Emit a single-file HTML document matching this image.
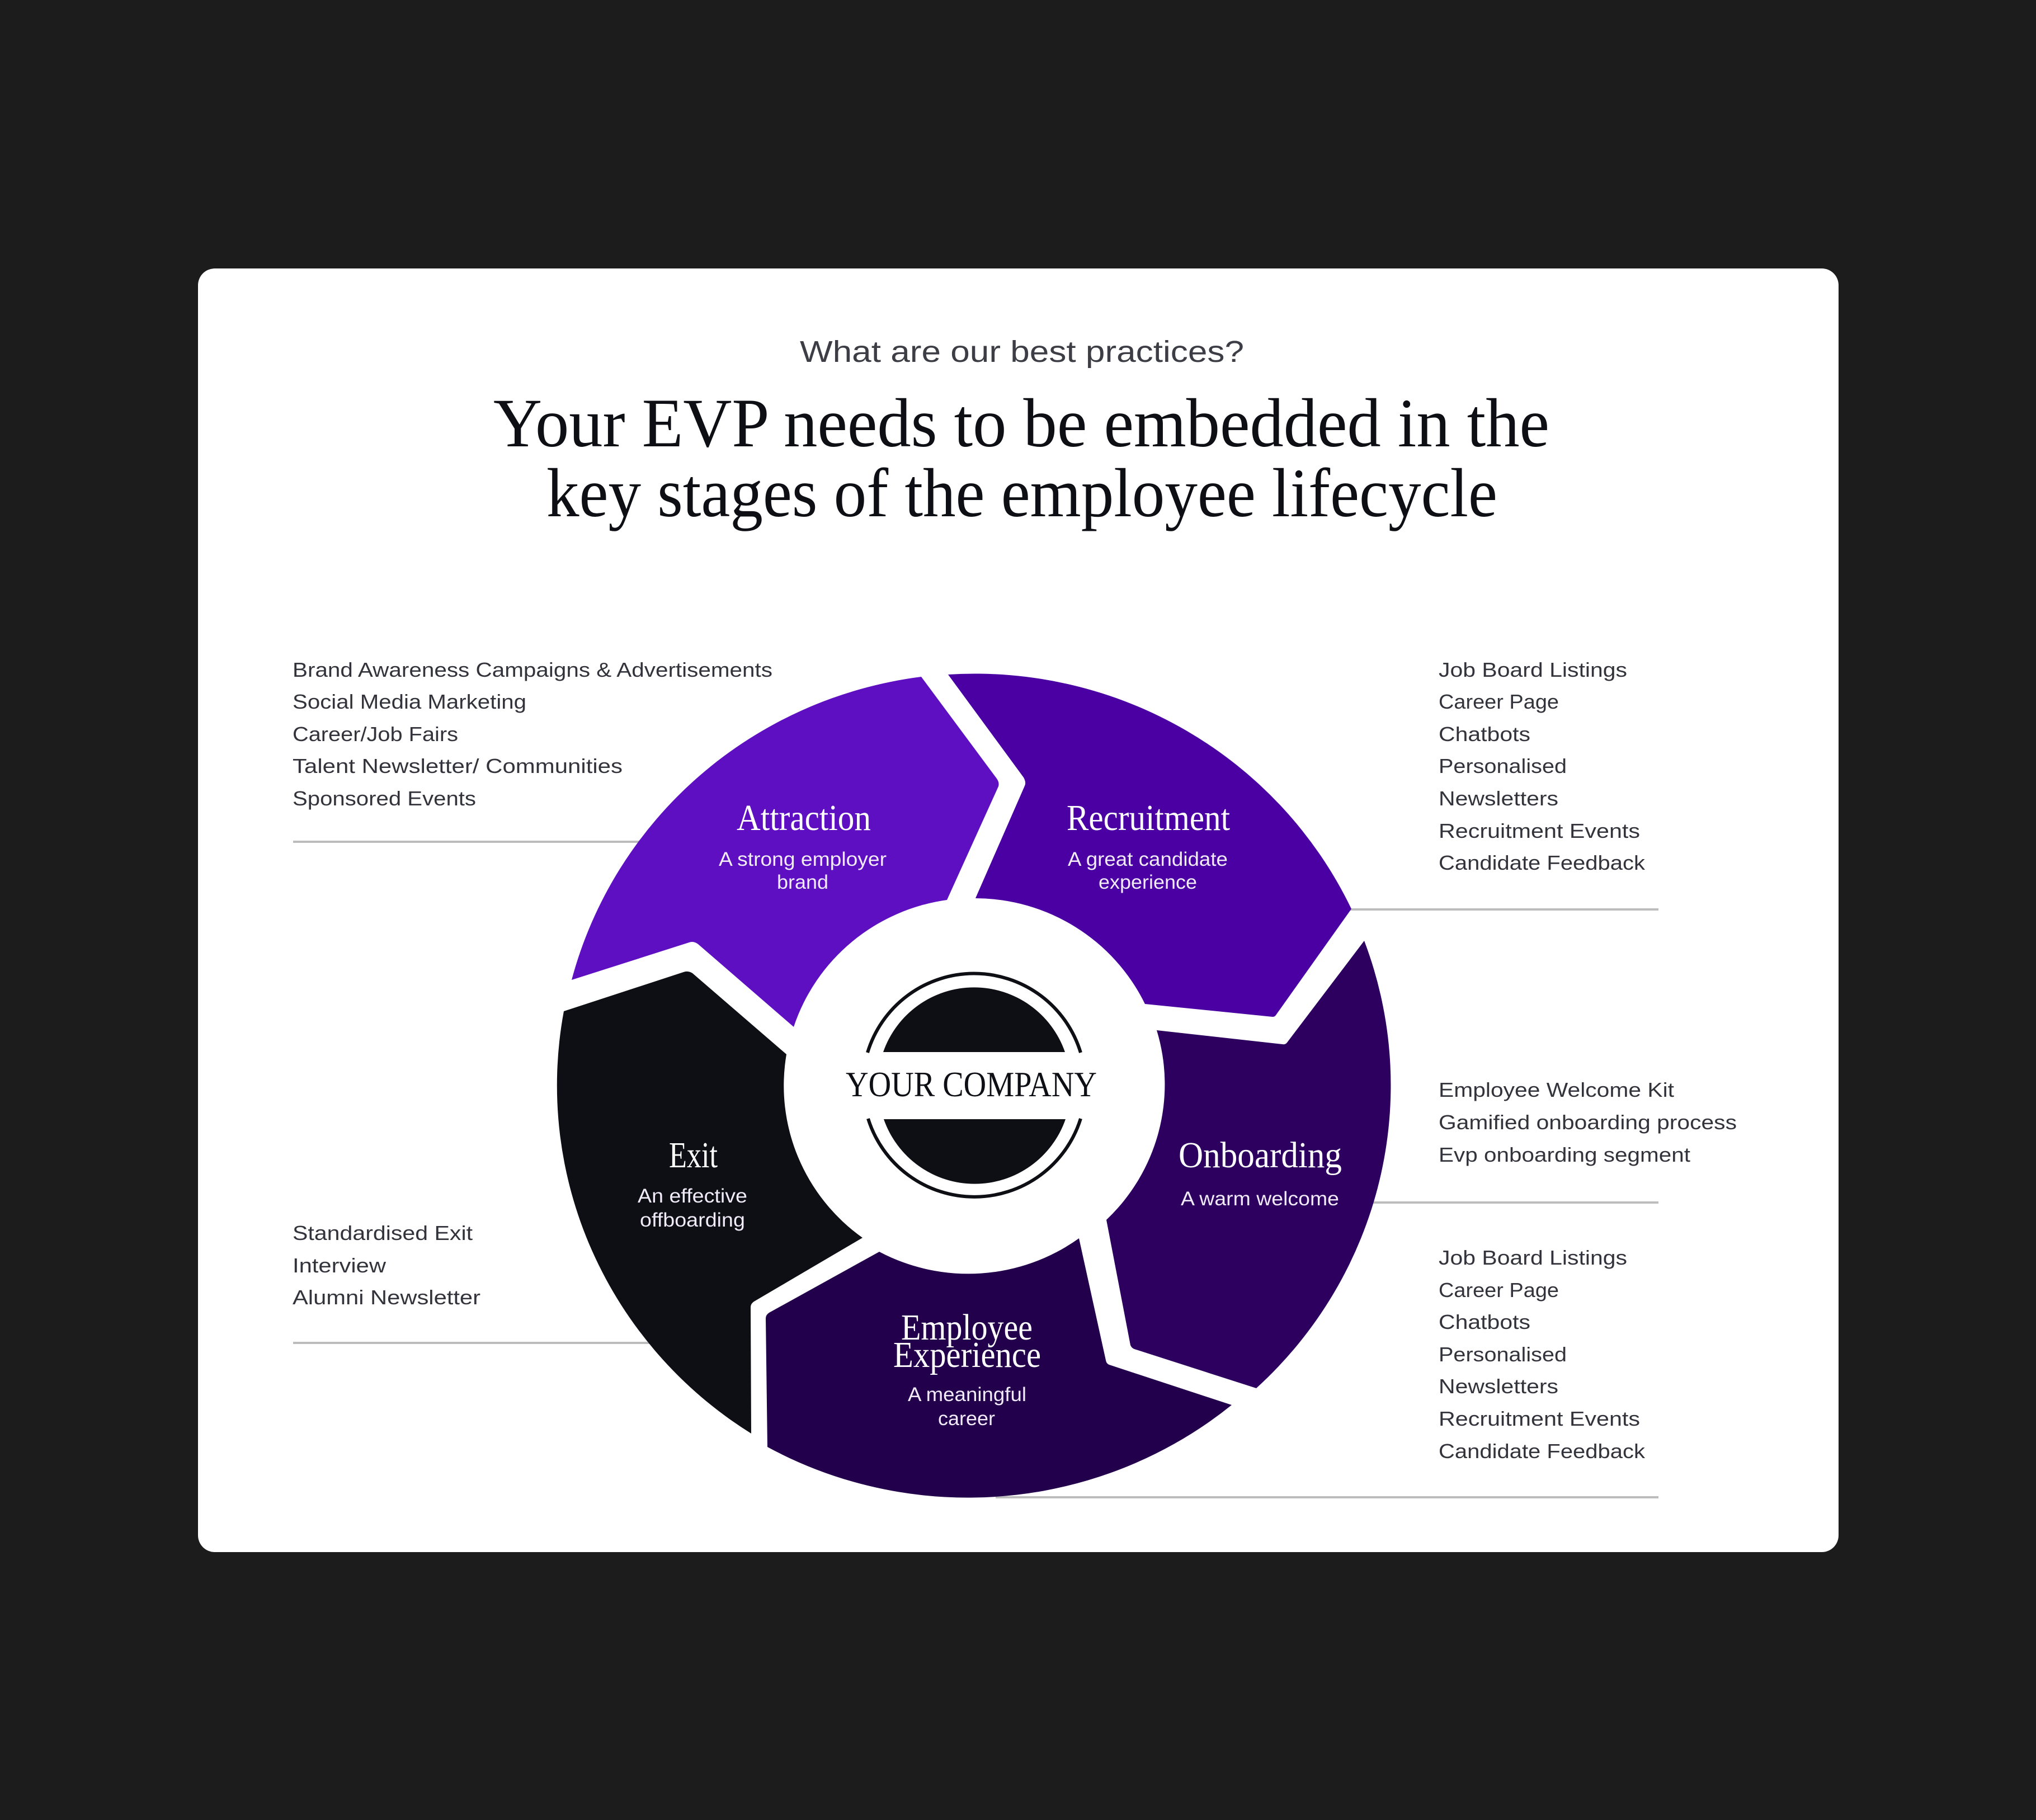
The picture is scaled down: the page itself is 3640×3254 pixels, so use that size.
<!DOCTYPE html>
<html><head><meta charset="utf-8"><style>
html,body{margin:0;padding:0;background:#1c1c1c}
svg{display:block}
.l{font-family:"Liberation Sans",sans-serif;font-size:36px;fill:#33333b}
.s{font-family:"Liberation Sans",sans-serif;font-size:35px;fill:#f1eaf8}
.t{font-family:"Liberation Serif",serif;font-size:66px;fill:#fff}
.h{font-family:"Liberation Serif",serif;font-size:124px;fill:#0d0f14}
</style></head><body>
<svg width="3640" height="3254" viewBox="0 0 3640 3254" xmlns="http://www.w3.org/2000/svg">
<rect width="3640" height="3254" fill="#1c1c1c"/>
<rect x="354" y="480" width="2933" height="2295" rx="30" fill="#fff"/>

<text x="1430" y="647" class="l" style="font-size:54px" fill-opacity=".95" textLength="794" lengthAdjust="spacingAndGlyphs">What are our best practices?</text>
<text x="882" y="798" class="h" textLength="1888" lengthAdjust="spacingAndGlyphs">Your EVP needs to be embedded in the</text>
<text x="977" y="923" class="h" textLength="1700" lengthAdjust="spacingAndGlyphs">key stages of the employee lifecycle</text>

<g fill="#bcbcbc">
<rect x="524" y="1503" width="660" height="4"/>
<rect x="2400" y="1624" width="565" height="4"/>
<rect x="2440" y="2148" width="525" height="4"/>
<rect x="524" y="2399" width="680" height="4"/>
<rect x="1780" y="2675" width="1185" height="4"/>
</g>

<path fill="#5e0fc1" d="M1647 1210L1782 1392Q1787 1399 1785 1406L1693 1609A338 335 0 0 0 1419 1836L1248 1688Q1240 1682 1232 1685L1022 1752A745 736 0 0 1 1647 1210Z"/>
<path fill="#4a00a3" d="M1695 1206A745 736 0 0 1 2416 1625L2281 1815Q2279 1818 2275 1818L2047 1795A338 335 0 0 0 1744 1606L1832 1405Q1835 1399 1830 1390Z"/>
<path fill="#2d0060" d="M2439 1682A745 736 0 0 1 2246 2482L2028 2412Q2023 2410 2021 2405L1978 2181A338 335 0 0 0 2068 1842L2293 1867Q2298 1868 2301 1864Z"/>
<path fill="#22004b" d="M2202 2512A745 736 0 0 1 1742 2677.500A745 736 0 0 1 1372 2587L1369 2357Q1369 2351 1375 2347L1572 2238A338 335 0 0 0 1929 2214L1977 2432Q1978 2438 1983 2440Z"/>
<path fill="#0d0f14" d="M1343 2563A745 736 0 0 1 1008 1808L1222 1738Q1230 1735 1238 1740L1406 1885A338 335 0 0 0 1542 2213L1348 2327Q1342 2331 1342 2337Z"/>

<!-- logo -->
<path fill="none" stroke="#0d0f14" stroke-width="6" d="M1551 1882A199 199 0 0 1 1932 1882"/>
<path fill="none" stroke="#0d0f14" stroke-width="6" d="M1552 2000A199 199 0 0 0 1932 2000"/>
<path fill="#0d0f14" d="M1579 1881A172 172 0 0 1 1904 1881Z"/>
<path fill="#0d0f14" d="M1580 2001A172 172 0 0 0 1905 2001Z"/>
<text x="1512" y="1960" font-family="'Liberation Serif',serif" font-size="63" fill="#0d0f14" textLength="449" lengthAdjust="spacingAndGlyphs">YOUR COMPANY</text>

<!-- wheel titles -->
<text class="t" x="1317" y="1484" textLength="240" lengthAdjust="spacingAndGlyphs">Attraction</text>
<text class="t" x="1907" y="1484" textLength="292" lengthAdjust="spacingAndGlyphs">Recruitment</text>
<text class="t" x="2107" y="2087" textLength="292" lengthAdjust="spacingAndGlyphs">Onboarding</text>
<text class="t" x="1196" y="2087" textLength="87" lengthAdjust="spacingAndGlyphs">Exit</text>
<text class="t" x="1611" y="2395" textLength="235" lengthAdjust="spacingAndGlyphs">Employee</text>
<text class="t" x="1597" y="2444" textLength="264" lengthAdjust="spacingAndGlyphs">Experience</text>

<text class="s" x="1285" y="1548" textLength="300" lengthAdjust="spacingAndGlyphs">A strong employer</text>
<text class="s" x="1389" y="1589" textLength="92" lengthAdjust="spacingAndGlyphs">brand</text>
<text class="s" x="1909" y="1548" textLength="286" lengthAdjust="spacingAndGlyphs">A great candidate</text>
<text class="s" x="1964" y="1589" textLength="176" lengthAdjust="spacingAndGlyphs">experience</text>
<text class="s" x="2111" y="2155" textLength="283" lengthAdjust="spacingAndGlyphs">A warm welcome</text>
<text class="s" x="1140" y="2150" textLength="196" lengthAdjust="spacingAndGlyphs">An effective</text>
<text class="s" x="1144" y="2193" textLength="188" lengthAdjust="spacingAndGlyphs">offboarding</text>
<text class="s" x="1623" y="2505" textLength="212" lengthAdjust="spacingAndGlyphs">A meaningful</text>
<text class="s" x="1677" y="2548" textLength="102" lengthAdjust="spacingAndGlyphs">career</text>

<!-- left lists -->
<text class="l" x="523" y="1210" textLength="858" lengthAdjust="spacingAndGlyphs">Brand Awareness Campaigns &amp; Advertisements</text>
<text class="l" x="523" y="1267" textLength="418" lengthAdjust="spacingAndGlyphs">Social Media Marketing</text>
<text class="l" x="523" y="1325" textLength="296" lengthAdjust="spacingAndGlyphs">Career/Job Fairs</text>
<text class="l" x="523" y="1382" textLength="590" lengthAdjust="spacingAndGlyphs">Talent Newsletter/ Communities</text>
<text class="l" x="523" y="1440" textLength="328" lengthAdjust="spacingAndGlyphs">Sponsored Events</text>

<text class="l" x="523" y="2217" textLength="322" lengthAdjust="spacingAndGlyphs">Standardised Exit</text>
<text class="l" x="523" y="2275" textLength="167" lengthAdjust="spacingAndGlyphs">Interview</text>
<text class="l" x="523" y="2332" textLength="336" lengthAdjust="spacingAndGlyphs">Alumni Newsletter</text>

<!-- right lists -->
<text class="l" x="2572" y="1210" textLength="337" lengthAdjust="spacingAndGlyphs">Job Board Listings</text>
<text class="l" x="2572" y="1267" textLength="215" lengthAdjust="spacingAndGlyphs">Career Page</text>
<text class="l" x="2572" y="1325" textLength="164" lengthAdjust="spacingAndGlyphs">Chatbots</text>
<text class="l" x="2572" y="1382" textLength="229" lengthAdjust="spacingAndGlyphs">Personalised</text>
<text class="l" x="2572" y="1440" textLength="214" lengthAdjust="spacingAndGlyphs">Newsletters</text>
<text class="l" x="2572" y="1498" textLength="360" lengthAdjust="spacingAndGlyphs">Recruitment Events</text>
<text class="l" x="2572" y="1555" textLength="369" lengthAdjust="spacingAndGlyphs">Candidate Feedback</text>

<text class="l" x="2572" y="1961" textLength="421" lengthAdjust="spacingAndGlyphs">Employee Welcome Kit</text>
<text class="l" x="2572" y="2019" textLength="533" lengthAdjust="spacingAndGlyphs">Gamified onboarding process</text>
<text class="l" x="2572" y="2077" textLength="450" lengthAdjust="spacingAndGlyphs">Evp onboarding segment</text>

<text class="l" x="2572" y="2261" textLength="337" lengthAdjust="spacingAndGlyphs">Job Board Listings</text>
<text class="l" x="2572" y="2319" textLength="215" lengthAdjust="spacingAndGlyphs">Career Page</text>
<text class="l" x="2572" y="2376" textLength="164" lengthAdjust="spacingAndGlyphs">Chatbots</text>
<text class="l" x="2572" y="2434" textLength="229" lengthAdjust="spacingAndGlyphs">Personalised</text>
<text class="l" x="2572" y="2491" textLength="214" lengthAdjust="spacingAndGlyphs">Newsletters</text>
<text class="l" x="2572" y="2549" textLength="360" lengthAdjust="spacingAndGlyphs">Recruitment Events</text>
<text class="l" x="2572" y="2607" textLength="369" lengthAdjust="spacingAndGlyphs">Candidate Feedback</text>
</svg>
</body></html>
